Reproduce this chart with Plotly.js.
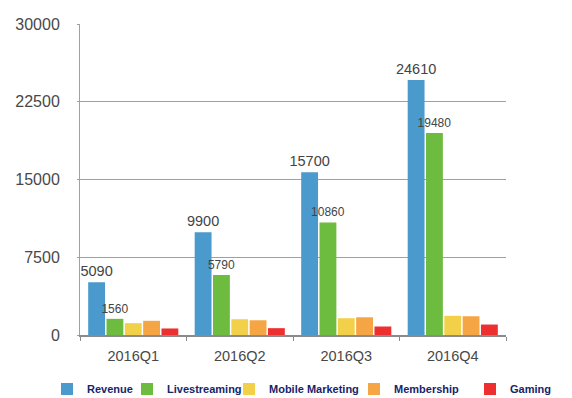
<!DOCTYPE html>
<html>
<head>
<meta charset="utf-8">
<script src="https://cdn.plot.ly/plotly-3.0.1.min.js"></script>
<style>html,body{margin:0;padding:0;background:#fff;}#chart{width:572px;height:398px;}</style>
</head>
<body>
<div id="chart"></div>
<script>
var quarters = ['2016Q1', '2016Q2', '2016Q3', '2016Q4'];
var revenue = [5090, 9900, 15700, 24610];
var livestreaming = [1560, 5790, 10860, 19480];
var mobileMarketing = [1140, 1520, 1620, 1850];
var membership = [1370, 1420, 1710, 1810];
var gaming = [630, 660, 820, 1010];
var seriesNames = ['Revenue', 'Livestreaming', 'Mobile Marketing', 'Membership', 'Gaming'];
var yTicks = [0, 7500, 15000, 22500, 30000];

var colors = ['#4a9acd', '#6dbb3f', '#f3d04a', '#f6a545', '#ee2f2f'];
var values = [revenue, livestreaming, mobileMarketing, membership, gaming];
var labelSizes = [14.5, 12, 0, 0, 0];
var legendNames = ['legend', 'legend2', 'legend3', 'legend4', 'legend5'];
var legendTextX = [47, 127, 229, 354, 470];

var traces = seriesNames.map(function (name, i) {
  var t = {
    type: 'bar',
    name: name,
    x: quarters,
    y: values[i],
    marker: {color: colors[i], line: {width: 0}},
    legend: legendNames[i],
    hoverinfo: 'none'
  };
  if (labelSizes[i] > 0) {
    t.text = values[i].map(String);
    t.textposition = 'outside';
    t.constraintext = 'none';
    t.cliponaxis = false;
    t.textfont = {family: 'Liberation Sans, Arial, sans-serif', size: labelSizes[i], color: '#444444'};
  } else {
    t.textposition = 'none';
  }
  return t;
});

var layout = {
  width: 572,
  height: 398,
  margin: {l: 80, r: 66, t: 24, b: 63},
  paper_bgcolor: '#ffffff',
  plot_bgcolor: '#ffffff',
  barmode: 'group',
  bargap: 0.14,
  bargroupgap: 0.08,
  showlegend: true,
  font: {family: 'Liberation Sans, Arial, sans-serif', color: '#444444'},
  xaxis: {
    type: 'category',
    showgrid: false,
    showline: true,
    linecolor: '#8a8a8a',
    linewidth: 1.5,
    ticks: 'outside',
    tickson: 'boundaries',
    ticklen: 4,
    tickcolor: '#8a8a8a',
    tickfont: {size: 14.5, color: '#484848'},
    ticklabelstandoff: 7,
    fixedrange: true
  },
  yaxis: {
    range: [0, 30000],
    tickvals: yTicks,
    ticktext: yTicks.map(String),
    showgrid: true,
    gridcolor: '#a0a0a0',
    gridwidth: 1,
    zeroline: false,
    showline: true,
    linecolor: '#a0a0a0',
    linewidth: 1,
    ticks: 'outside',
    ticklen: 2,
    tickcolor: '#a0a0a0',
    tickfont: {size: 16, color: '#484848'},
    ticklabelstandoff: 14,
    fixedrange: true
  }
};

legendNames.forEach(function (ln, i) {
  layout[ln] = {
    xref: 'container',
    yref: 'container',
    x: legendTextX[i] / 572,
    y: 1 - 389 / 398,
    xanchor: 'left',
    yanchor: 'middle',
    orientation: 'h',
    bgcolor: 'rgba(0,0,0,0)',
    borderwidth: 0,
    font: {family: 'Liberation Sans, Arial, sans-serif', size: 11, color: '#16246a', weight: 'bold'}
  };
});

Plotly.newPlot('chart', traces, layout, {displayModeBar: false, staticPlot: true});
</script>
</body>
</html>
